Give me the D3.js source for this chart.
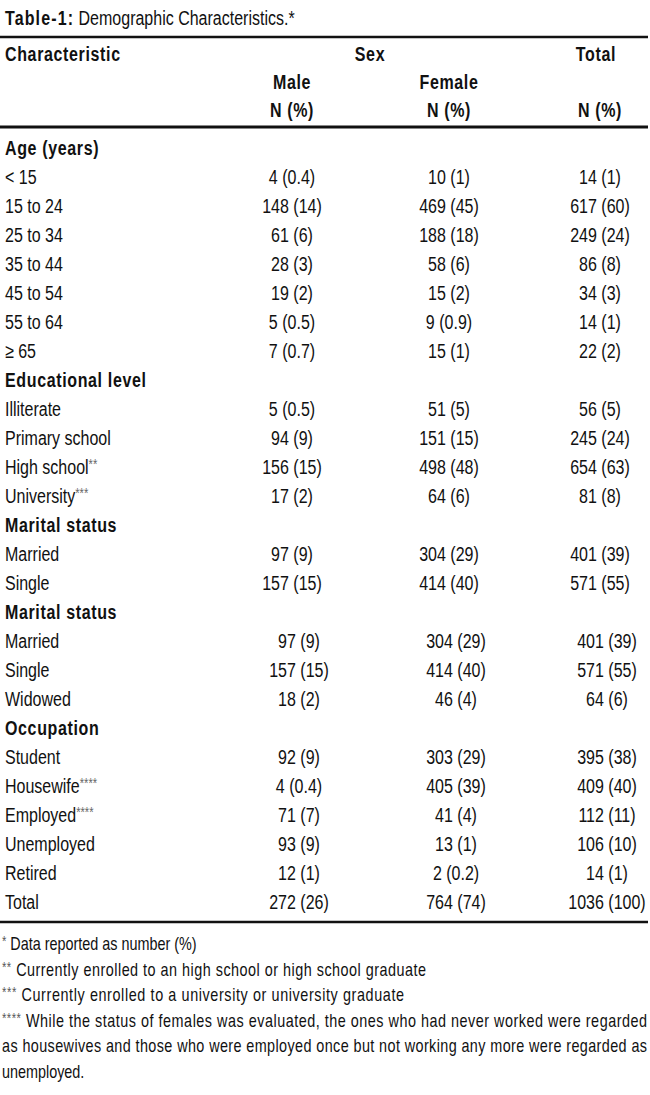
<!DOCTYPE html>
<html>
<head>
<meta charset="utf-8">
<script src="https://d3js.org/d3.v7.min.js"></script>
<style>
    body { margin: 0; background: #fff; }
    text { font-family: "Liberation Sans", Arial, sans-serif; fill: #111; }
    .bold { font-weight: bold; letter-spacing: 0.8px; }
</style>
</head>
<body>
<script>
// table content
var groupNames = ["Age (years)", "Educational level", "Marital status", "Marital status", "Occupation"];

var ageCats = ["< 15", "15 to 24", "25 to 34", "35 to 44", "45 to 54", "55 to 64", "≥ 65"];
var ageMale = [[4, 0.4], [148, 14], [61, 6], [28, 3], [19, 2], [5, 0.5], [7, 0.7]];
var ageFemale = [[10, 1], [469, 45], [188, 18], [58, 6], [15, 2], [9, 0.9], [15, 1]];
var ageTotal = [[14, 1], [617, 60], [249, 24], [86, 8], [34, 3], [14, 1], [22, 2]];

var eduCats = ["Illiterate", "Primary school", "High school**", "University***"];
var eduMale = [[5, 0.5], [94, 9], [156, 15], [17, 2]];
var eduFemale = [[51, 5], [151, 15], [498, 48], [64, 6]];
var eduTotal = [[56, 5], [245, 24], [654, 63], [81, 8]];

var maritalCats = ["Married", "Single"];
var maritalMale = [[97, 9], [157, 15]];
var maritalFemale = [[304, 29], [414, 40]];
var maritalTotal = [[401, 39], [571, 55]];

var marital2Cats = ["Married", "Single", "Widowed"];
var marital2Male = [[97, 9], [157, 15], [18, 2]];
var marital2Female = [[304, 29], [414, 40], [46, 4]];
var marital2Total = [[401, 39], [571, 55], [64, 6]];

var occCats = ["Student", "Housewife****", "Employed****", "Unemployed", "Retired"];
var occMale = [[92, 9], [4, 0.4], [71, 7], [93, 9], [12, 1]];
var occFemale = [[303, 29], [405, 39], [41, 4], [13, 1], [2, 0.2]];
var occTotal = [[395, 38], [409, 40], [112, 11], [106, 10], [14, 1]];

var totalMale = [272, 26], totalFemale = [764, 74], totalAll = [1036, 100];

var columnKeys = ["male", "female", "total"];
var subHeads = ["Male", "Female", ""];

var footnotes = [
    "* Data reported as number (%)",
    "** Currently enrolled to an high school or high school graduate",
    "*** Currently enrolled to a university or university graduate",
    "**** While the status of females was evaluated, the ones who had never worked were regarded",
    "as housewives and those who were employed once but not working any more were regarded as",
    "unemployed."
];
var noteWidths = [null, 424, 402, 645, 645, null];   // line lengths as printed

window.onload = function(){

    var w = 650, h = 1095;
    var sx = 0.8;                                   // squeeze text to look like a condensed face

    var svg = d3.select("body")
        .append("svg")
        .attr("width", w)
        .attr("height", h)
        .attr("class", "svg");

    // flatten groups into one list of rows
    var blocks = [
        [ageCats, ageMale, ageFemale, ageTotal],
        [eduCats, eduMale, eduFemale, eduTotal],
        [maritalCats, maritalMale, maritalFemale, maritalTotal],
        [marital2Cats, marital2Male, marital2Female, marital2Total],
        [occCats, occMale, occFemale, occTotal]
    ];
    var rows = [];
    blocks.forEach(function(b, gi){
        rows.push({label: groupNames[gi], head: true, group: gi});
        b[0].forEach(function(c, i){
            rows.push({label: c, group: gi, male: b[1][i], female: b[2][i], total: b[3][i]});
        });
    });
    rows.push({label: "Total", group: 4, male: totalMale, female: totalFemale, total: totalAll});

    var y = d3.scalePoint()                         // baseline of each row
        .domain(d3.range(rows.length))
        .range([155, 909]);

    var x = d3.scalePoint()                         // centre of each value column
        .domain(columnKeys)
        .range([292, 600]);

    var shift = function(g){ return g >= 3 ? 7 : 0; };   // lower blocks sit slightly right

    // rules
    var rules = svg.selectAll(".rule")
        .data([[37, 2.5], [127, 3], [922, 2.5]])
        .enter()
        .append("line")
        .attr("class", "rule")
        .attr("x1", 0)
        .attr("x2", 648)
        .attr("y1", function(d){ return d[0]; })
        .attr("y2", function(d){ return d[0]; })
        .style("stroke", "#111")
        .style("stroke-width", function(d){ return d[1]; });

    // all text lives in a horizontally squeezed layer, x values are divided by sx
    var txt = svg.append("g")
        .attr("class", "txt")
        .attr("transform", "scale(" + sx + ",1)");

    // title
    var title = txt.append("text")
        .attr("x", 5 / sx)
        .attr("y", 25)
        .style("font-size", "20px");
    title.append("tspan").attr("class", "bold").style("letter-spacing", "1.4px").text("Table-1:");
    title.append("tspan").text(" Demographic Characteristics.*");

    // header
    var header = txt.append("g").attr("class", "header").style("font-size", "20px");
    header.append("text").attr("class", "bold").attr("x", 5 / sx).attr("y", 61).text("Characteristic");
    header.append("text").attr("class", "bold").attr("x", 370 / sx).attr("y", 61)
        .attr("text-anchor", "middle").text("Sex");
    header.append("text").attr("class", "bold").attr("x", (x("total") - 4) / sx).attr("y", 61)
        .attr("text-anchor", "middle").text("Total");
    header.selectAll(".sub")
        .data(columnKeys)
        .enter()
        .append("text")
        .attr("class", "sub bold")
        .attr("x", function(d){ return (x(d) + (d == "female" ? 3 : 0)) / sx; })
        .attr("y", 89)
        .attr("text-anchor", "middle")
        .text(function(d, i){ return subHeads[i]; });
    header.selectAll(".npct")
        .data(columnKeys)
        .enter()
        .append("text")
        .attr("class", "npct bold")
        .attr("x", function(d){ return (x(d) + (d == "female" ? 3 : 0)) / sx; })
        .attr("y", 117)
        .attr("text-anchor", "middle")
        .text("N (%)");

    // body rows
    var rowG = txt.selectAll(".row")
        .data(rows)
        .enter()
        .append("g")
        .attr("class", "row")
        .attr("transform", function(d, i){ return "translate(0," + y(i) + ")"; })
        .style("font-size", "20px");

    var labels = rowG.append("text")
        .attr("class", function(d){ return d.head ? "bold" : null; })
        .attr("x", 5 / sx);
    labels.append("tspan")
        .text(function(d){ return d.label.replace(/\*+$/, ""); });
    labels.append("tspan")                          // trailing asterisks, small and raised
        .attr("dy", -5)
        .style("font-size", "14px")
        .style("fill", "#666")
        .text(function(d){ var m = d.label.match(/\*+$/); return m ? m[0] : ""; });

    columnKeys.forEach(function(k){
        rowG.filter(function(d){ return !d.head; })
            .append("text")
            .attr("x", function(d){ return (x(k) + shift(d.group) + (k == "female" ? 3 : 0)) / sx; })
            .attr("text-anchor", "middle")
            .text(function(d){ return d[k][0] + " (" + d[k][1] + ")"; });
    });

    // footnotes
    var notes = txt.selectAll(".note")
        .data(footnotes)
        .enter()
        .append("text")
        .attr("class", "note")
        .attr("x", 2 / sx)
        .attr("y", function(d, i){ return 950 + i * 25.6; })
        .style("font-size", "18px")
        .attr("textLength", function(d, i){ return noteWidths[i] ? noteWidths[i] / sx : null; })
        .attr("lengthAdjust", "spacing");
    notes.append("tspan")
        .style("font-size", "14px")
        .style("fill", "#555")
        .attr("dy", -4)
        .text(function(d){ var m = d.match(/^\*+/); return m ? m[0] : ""; });
    notes.append("tspan")
        .attr("dy", function(d){ return /^\*/.test(d) ? 4 : 0; })
        .text(function(d){ return d.replace(/^\*+/, ""); });
};
</script>
</body>
</html>
